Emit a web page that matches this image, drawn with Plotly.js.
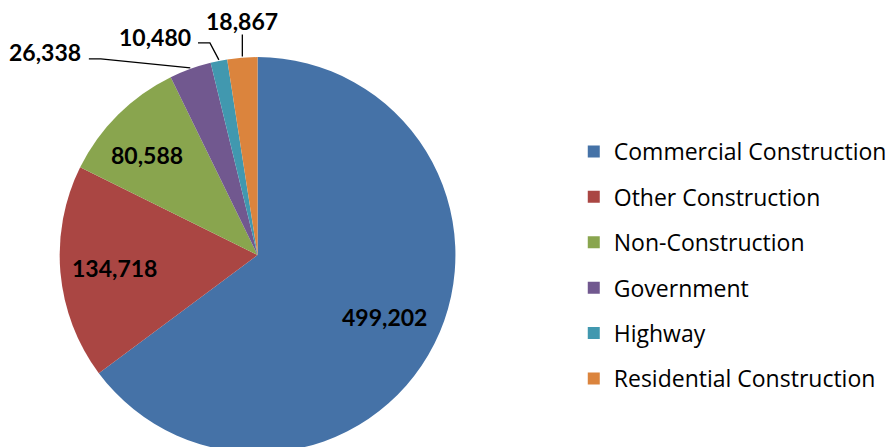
<!DOCTYPE html>
<html><head><meta charset="utf-8">
<script src="https://cdn.plot.ly/plotly-3.0.1.min.js"></script>
<style>html,body{margin:0;padding:0;overflow:hidden;background:#fff;}</style>
</head><body><div id="chart" style="width:892px;height:470px;"></div>
<script>
var categories = ["Commercial Construction","Other Construction","Non-Construction","Government","Highway","Residential Construction"];
var values = [499202,134718,80588,26338,10480,18867];
var colors = ["#4572A7","#AA4643","#89A54E","#71588F","#4198AF","#DB843D"];

var W = 892, H = 470;
var CX = 259, CY = 255, R = 199;   // pie centre and radius in px
var labelFont = {family: "Lato, 'Open Sans', sans-serif", size: 23, color: "#000000", weight: "bold"};

// label placement styles (per slice)
var insideSpec = {0: {r: 0.72, dx: 0, dy: -2}, 1: {r: 0.72, dx: -1, dy: 0}, 2: {r: 0.72, dx: -10, dy: 2}};
var outsideSpec = {
  3: {path: [[0,0],[-90,-9],[-102,-9]], tx: -108, ty: -16, anchor: "right"},
  4: {path: [[0,0],[-9,-17],[-21,-17]], tx: -26, ty: -23, anchor: "right"},
  5: {path: [[0,0],[0,-22]], tx: 0, ty: -36, anchor: "center"}
};

function px2x(x){ return x / W; }
function px2y(y){ return (H - y) / H; }
function fmt(v){ return v.toLocaleString("en-US"); }

var total = values.reduce(function(a,b){return a+b;}, 0);
var annotations = [], shapes = [];
var cum = 0;
values.forEach(function(v, i){
  var mid = (cum + v/2) / total * 2 * Math.PI;
  cum += v;
  var s = Math.sin(mid), c = Math.cos(mid);
  if (insideSpec[i]) {
    var sp = insideSpec[i];
    var x = CX + sp.r*R*s + sp.dx, y = CY - sp.r*R*c + sp.dy;
    annotations.push({x: px2x(x), y: px2y(y), xref: "paper", yref: "paper",
      text: fmt(v), showarrow: false, font: labelFont, xanchor: "center", yanchor: "middle"});
  } else {
    var o = outsideSpec[i];
    var ex = CX + R*s, ey = CY - R*c;
    var d = o.path.map(function(p, k){
      return (k === 0 ? "M" : "L") + px2x(ex + p[0]).toFixed(5) + "," + px2y(ey + p[1]).toFixed(5);
    }).join(" ");
    shapes.push({type: "path", xref: "paper", yref: "paper", path: d,
      line: {color: "#000000", width: 1.3}});
    annotations.push({x: px2x(ex + o.tx), y: px2y(ey + o.ty), xref: "paper", yref: "paper",
      text: fmt(v), showarrow: false, font: labelFont, xanchor: o.anchor, yanchor: "middle"});
  }
});

var traces = [{
  type: "pie",
  labels: categories,
  values: values,
  sort: false,
  direction: "clockwise",
  rotation: 0,
  marker: {colors: colors, line: {width: 0}},
  textinfo: "none",
  domain: {x: [px2x(CX - R), px2x(CX + R)], y: [px2y(CY + R), px2y(CY - R)]},
  showlegend: false,
  hoverinfo: "label+value"
}];
categories.forEach(function(c, i){
  traces.push({
    type: "scatter", mode: "markers", x: [null], y: [null],
    name: c, legendgroup: "g"+i,
    marker: {symbol: "square", size: 12, color: colors[i]},
    showlegend: true, hoverinfo: "skip"
  });
});
var layout = {
  width: W, height: H,
  margin: {l:0, r:0, t:0, b:0},
  paper_bgcolor: "#ffffff", plot_bgcolor: "#ffffff",
  xaxis: {visible: false}, yaxis: {visible: false},
  showlegend: true,
  annotations: annotations,
  shapes: shapes,
  legend: {
    x: 577/W, y: (H-130)/H, xanchor: "left", yanchor: "top",
    font: {family: "'Open Sans', Lato, sans-serif", size: 23, color: "#000000"},
    tracegroupgap: 12.5, itemclick: false, bgcolor: "rgba(0,0,0,0)"
  }
};
Plotly.newPlot("chart", traces, layout, {displayModeBar: false, staticPlot: true});
</script></body></html>
